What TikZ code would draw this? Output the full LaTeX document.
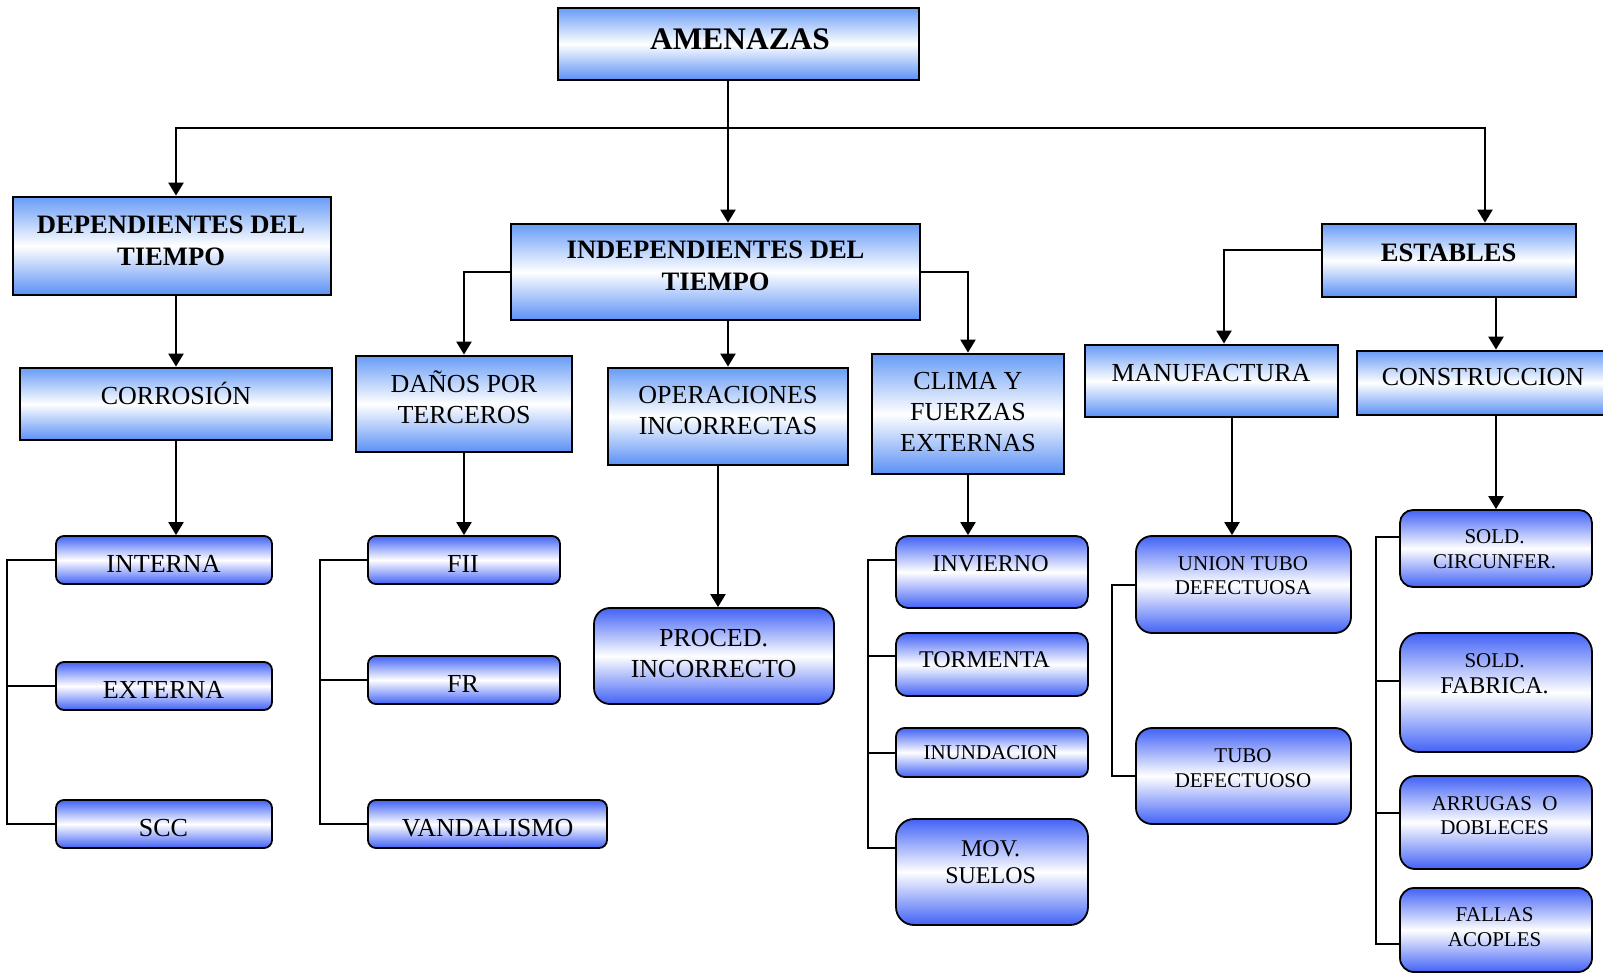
\documentclass[tikz,border=0pt]{standalone}
\usepackage{fontspec}
\setmainfont{Liberation Serif}
\usetikzlibrary{fit,arrows.meta,calc}

\definecolor{hdtop}{RGB}{104,156,246}
\definecolor{hdbot}{RGB}{90,144,245}
\definecolor{lfblue}{RGB}{66,98,246}

\tikzset{
  % square header boxes
  sbox/.style={rectangle, draw=black, line width=1.4pt, inner sep=0pt,
    top color=hdtop, bottom color=hdbot, middle color=white},
  % rounded leaf boxes, argument = corner radius
  rbox/.style={rectangle, draw=black, line width=0.9pt, inner sep=0pt,
    rounded corners=#1, top color=lfblue, bottom color=lfblue, middle color=white},
  txt/.style={inner sep=0pt, align=center, text=black},
  ftitle/.style={font=\fontsize{15.7}{18}\selectfont\bfseries},
  fhead/.style={font=\fontsize{13.3}{16}\selectfont\bfseries},
  fnorm/.style={font=\fontsize{13}{15.5}\selectfont},
  fmid/.style={font=\fontsize{12}{13.8}\selectfont},
  fsmall/.style={font=\fontsize{10.5}{12.3}\selectfont},
  arr/.style={line width=1.2pt, -{Triangle[length=6.5pt,width=7.5pt]}},
  ln/.style={line width=1.2pt},
  brk/.style={line width=1pt},
}

\begin{document}
\begin{tikzpicture}[x=0.5pt,y=-0.5pt]
\useasboundingbox (0,0) rectangle (1603,974);
\begin{scope}
\clip (0,0) rectangle (1603,974);

% ---------- boxes ----------
\node[sbox, fit={(558,8)(919,80)}] (amen) {};
\node[sbox, fit={(13,197)(331,295)}] (dep) {};
\node[sbox, fit={(20,368)(332,440)}] (corr) {};
\node[sbox, fit={(511,224)(920,320)}] (indep) {};
\node[sbox, fit={(356,356)(572,452)}] (danos) {};
\node[sbox, fit={(608,368)(848,465)}] (oper) {};
\node[sbox, fit={(872,354)(1064,474)}] (clima) {};
\node[sbox, fit={(1085,345)(1338,417)}] (manuf) {};
\node[sbox, fit={(1322,224)(1576,297)}] (est) {};
\node[sbox, fit={(1357,351)(1612,415)}] (constr) {};

\node[rbox=4pt, fit={(56,536)(272,584)}] (int) {};
\node[rbox=4pt, fit={(56,662)(272,710)}] (ext) {};
\node[rbox=4pt, fit={(56,800)(272,848)}] (scc) {};
\node[rbox=4pt, fit={(368,536)(560,584)}] (fii) {};
\node[rbox=4pt, fit={(368,656)(560,704)}] (fr) {};
\node[rbox=4pt, fit={(368,800)(607,848)}] (vand) {};
\node[rbox=8pt, fit={(594,608)(834,704)}] (proced) {};
\node[rbox=6pt, fit={(896,536)(1088,608)}] (inv) {};
\node[rbox=5.5pt, fit={(896,633)(1088,696)}] (torm) {};
\node[rbox=4.2pt, fit={(896,728)(1088,777)}] (inund) {};
\node[rbox=9pt, fit={(896,819)(1088,925)}] (mov) {};
\node[rbox=8pt, fit={(1136,536)(1351,633)}] (union) {};
\node[rbox=8pt, fit={(1136,728)(1351,824)}] (tubo) {};
\node[rbox=6.5pt, fit={(1400,510)(1592,587)}] (sc) {};
\node[rbox=9.5pt, fit={(1400,633)(1592,752)}] (sf) {};
\node[rbox=7.5pt, fit={(1400,776)(1592,869)}] (ar) {};
\node[rbox=7pt, fit={(1400,888)(1592,972)}] (fa) {};

% ---------- labels ----------
\node[txt, ftitle] (amen-t) at (740,39) {AMENAZAS};
\node[txt, fhead] (dep-t) at (171,241) {DEPENDIENTES DEL\\TIEMPO};
\node[txt, fnorm] (corr-t) at (176,393) {CORROSIÓN};
\node[txt, fnorm] (int-t) at (163.5,564) {INTERNA};
\node[txt, fnorm] (ext-t) at (163.5,690) {EXTERNA};
\node[txt, fnorm] (scc-t) at (163.5,828) {SCC};
\node[txt, fhead] (indep-t) at (715.6,266) {INDEPENDIENTES DEL\\TIEMPO};
\node[txt, fnorm] (danos-t) at (464,397) {DAÑOS POR\\TERCEROS};
\node[txt, fnorm] (oper-t) at (728,411) {OPERACIONES\\INCORRECTAS};
\node[txt, fnorm] (clima-t) at (968,412) {CLIMA Y\\FUERZAS\\EXTERNAS};
\node[txt, fnorm] (manuf-t) at (1211,373) {MANUFACTURA};
\node[txt, fhead] (est-t) at (1448.6,252.5) {ESTABLES};
\node[txt, fnorm] (constr-t) at (1483,377) {CONSTRUCCION};
\node[txt, fnorm] (fii-t) at (463,564) {FII};
\node[txt, fnorm] (fr-t) at (463,684) {FR};
\node[txt, fnorm] (vand-t) at (487.6,828) {VANDALISMO};
\node[txt, fnorm] (proced-t) at (713.6,654) {PROCED.\\INCORRECTO};
\node[txt, fmid] (inv-t) at (990.6,564) {INVIERNO};
\node[txt, fmid] (torm-t) at (984.5,660) {TORMENTA};
\node[txt, fsmall] (inund-t) at (990.6,753) {INUNDACION};
\node[txt, fmid] (mov-t) at (990.6,862) {MOV.\\SUELOS};
\node[txt, fsmall] (union-t) at (1243,575.5) {UNION TUBO\\DEFECTUOSA};
\node[txt, fsmall] (tubo-t) at (1243,768) {TUBO\\DEFECTUOSO};
\node[txt, fsmall] (sc-t) at (1494.6,549) {SOLD.\\CIRCUNFER.};
\node[txt, fsmall] (sf-t) at (1494.6,673.7) {SOLD.\\[1pt]{\fontsize{12}{14}\selectfont FABRICA.}};
\node[txt, fsmall] (ar-t) at (1494.6,815.8) {ARRUGAS\ \ O\\DOBLECES};
\node[txt, fsmall] (fa-t) at (1494.6,927) {FALLAS\\ACOPLES};

% ---------- main bus ----------
\coordinate (bus) at (728,128);
\draw[ln] (amen.south -| bus) -- (bus);
\draw[arr] (bus) -- (indep.north -| bus);
\draw[arr] (bus) -| ([xshift=2pt]dep.north);
\draw[arr] (bus) -| (est.north -| 1485,0);

% ---------- time-dependent branch ----------
\draw[arr] (dep.south -| corr.north) -- (corr.north);
\draw[arr] (corr.south) -- (corr.south |- int.north);
\draw[brk] (int.west) -- (int.west -| 7,0) |- (scc.west);
\draw[brk] (ext.west) -- (ext.west -| 7,0);

% ---------- time-independent branch ----------
\draw[arr] (indep.west) -| (danos.north);
\draw[arr] (indep.east) -| (clima.north);
\draw[arr] (indep.south -| oper.north) -- (oper.north);
\draw[arr] (danos.south) -- (fii.north);
\draw[brk] (fii.west) -- (fii.west -| 320,0) |- (vand.west);
\draw[brk] (fr.west) -- (fr.west -| 320,0);
\draw[arr] ([xshift=-5pt]oper.south) -- ([xshift=-5pt]oper.south |- proced.north);
\draw[arr] (clima.south) -- (clima.south |- inv.north);
\draw[brk] ([yshift=6pt]inv.west) -- ([yshift=6pt]inv.west -| 868,0)
           |- ([yshift=12pt]mov.west);
\draw[brk] ([yshift=4.25pt]torm.west) -- ([yshift=4.25pt]torm.west -| 868,0);
\draw[brk] (inund.west) -- (inund.west -| 868,0);

% ---------- stable branch ----------
\draw[arr] ([yshift=5.25pt]est.west) -| ([xshift=6.25pt]manuf.north);
\draw[arr] (est.south -| 1496,0) -- (constr.north -| 1496,0);
\draw[arr] (constr.south -| sc.north) -- (sc.north);
\draw[arr] (manuf.south -| 1232,0) -- (union.north -| 1232,0);
\draw[brk] (union.west) -- (union.west -| 1112,0) |- (tubo.west);
\draw[brk] ([yshift=5.75pt]sc.west) -- ([yshift=5.75pt]sc.west -| 1376,0)
           |- ([yshift=-7pt]fa.west);
\draw[brk] ([yshift=5.75pt]sf.west) -- ([yshift=5.75pt]sf.west -| 1376,0);
\draw[brk] ([yshift=5pt]ar.west) -- ([yshift=5pt]ar.west -| 1376,0);
\end{scope}
\end{tikzpicture}
\end{document}
